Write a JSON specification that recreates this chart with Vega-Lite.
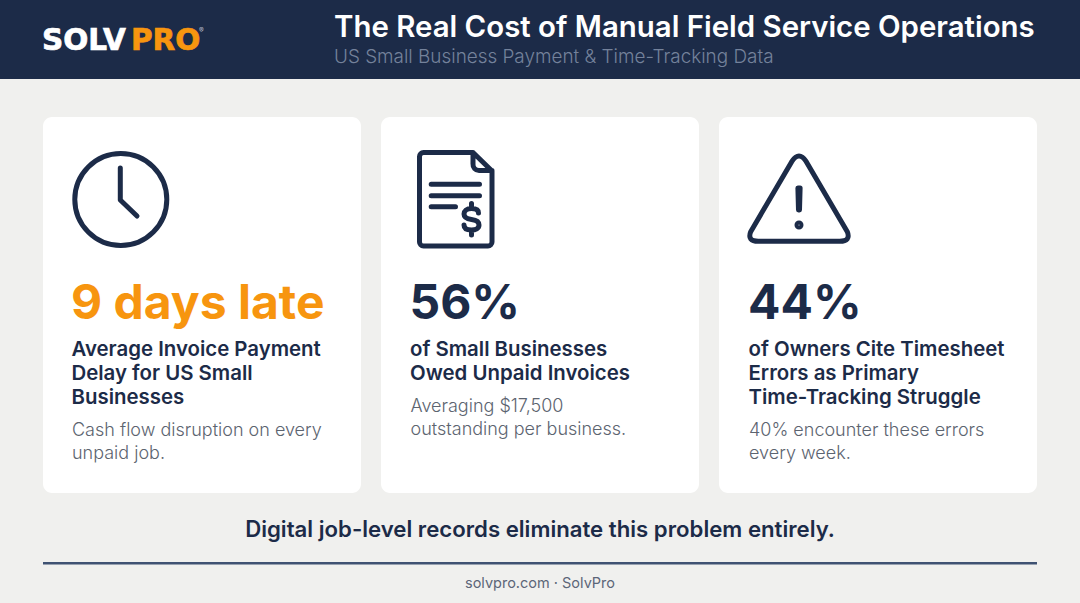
{
  "$schema": "https://vega.github.io/schema/vega-lite/v6.json",
  "width": 1080,
  "height": 603,
  "autosize": {"type": "fit", "contains": "padding"},
  "padding": 0,
  "background": "#f0f0ee",
  "config": {"view": {"stroke": null}, "font": "Inter"},
  "resolve": {"scale": {"x": "independent", "y": "independent", "color": "independent", "stroke": "independent"}},
  "layer": [
    {
      "data": {"values": [{"panel": "header"}]},
      "mark": {"type": "rect", "fill": "#1c2b48"},
      "encoding": {
        "x": {"field": "panel", "type": "nominal", "axis": null, "scale": {"type": "band", "domain": ["header"], "range": [0, 1080], "padding": 0}},
        "y": {"field": "panel", "type": "nominal", "axis": null, "scale": {"type": "band", "domain": ["header"], "range": [0, 79], "padding": 0}}
      }
    },
    {
      "data": {"values": [{"card": "Payment delay"}, {"card": "Unpaid invoices"}, {"card": "Timesheet errors"}]},
      "mark": {"type": "rect", "fill": "#ffffff", "cornerRadius": 9},
      "encoding": {
        "x": {"field": "card", "type": "nominal", "axis": null, "scale": {"type": "band", "domain": ["Payment delay", "Unpaid invoices", "Timesheet errors"], "range": [43, 1037], "paddingInner": 0.0592, "paddingOuter": 0}},
        "y": {"datum": "card", "type": "nominal", "axis": null, "scale": {"type": "band", "domain": ["card"], "range": [117, 493], "padding": 0}}
      }
    },
    {
      "data": {"values": [{"panel": "divider"}]},
      "mark": {"type": "rect", "fill": "#3f5272"},
      "encoding": {
        "x": {"field": "panel", "type": "nominal", "axis": null, "scale": {"type": "band", "domain": ["divider"], "range": [43, 1037], "padding": 0}},
        "y": {"field": "panel", "type": "nominal", "axis": null, "scale": {"type": "band", "domain": ["divider"], "range": [562, 564.5], "padding": 0}}
      }
    },
    {
      "data": {"values": [{"word": "SOLV"}, {"word": "PRO"}]},
      "mark": {"type": "text", "align": "left", "baseline": "alphabetic", "fontSize": 29.5, "fontWeight": 700, "font": "DejaVu Sans", "strokeWidth": 0.7},
      "encoding": {
        "x": {"field": "word", "type": "nominal", "axis": null, "scale": {"type": "point", "domain": ["SOLV", "PRO"], "range": [42, 131], "padding": 0}},
        "y": {"datum": "logo", "type": "nominal", "axis": null, "scale": {"type": "point", "domain": ["logo"], "range": [50, 50], "padding": 0}},
        "text": {"field": "word"},
        "color": {"field": "word", "type": "nominal", "legend": null, "scale": {"domain": ["SOLV", "PRO"], "range": ["#ffffff", "#f7950f"]}},
        "stroke": {"field": "word", "type": "nominal", "legend": null, "scale": {"domain": ["SOLV", "PRO"], "range": ["#ffffff", "#f7950f"]}}
      }
    },
    {
      "data": {"values": [{"word": "®"}]},
      "mark": {"type": "text", "align": "left", "baseline": "alphabetic", "fontSize": 7, "color": "#b9bfca"},
      "encoding": {
        "x": {"field": "word", "type": "nominal", "axis": null, "scale": {"type": "point", "domain": ["®"], "range": [199, 199], "padding": 0}},
        "y": {"field": "word", "type": "nominal", "axis": null, "scale": {"type": "point", "domain": ["®"], "range": [33, 33], "padding": 0}},
        "text": {"field": "word"}
      }
    },
    {
      "data": {"values": [{"slot": "title", "label": "The Real Cost of Manual Field Service Operations"}]},
      "mark": {"type": "text", "align": "left", "baseline": "alphabetic", "fontSize": 29.4, "fontWeight": 600, "color": "#ffffff"},
      "encoding": {
        "x": {"field": "slot", "type": "nominal", "axis": null, "scale": {"type": "point", "domain": ["title"], "range": [334, 334], "padding": 0}},
        "y": {"field": "slot", "type": "nominal", "axis": null, "scale": {"type": "point", "domain": ["title"], "range": [37, 37], "padding": 0}},
        "text": {"field": "label"}
      }
    },
    {
      "data": {"values": [{"slot": "subtitle", "label": "US Small Business Payment & Time-Tracking Data"}]},
      "mark": {"type": "text", "align": "left", "baseline": "alphabetic", "fontSize": 18.9, "fontWeight": 300, "color": "#74829b"},
      "encoding": {
        "x": {"field": "slot", "type": "nominal", "axis": null, "scale": {"type": "point", "domain": ["subtitle"], "range": [334, 334], "padding": 0}},
        "y": {"field": "slot", "type": "nominal", "axis": null, "scale": {"type": "point", "domain": ["subtitle"], "range": [63, 63], "padding": 0}},
        "text": {"field": "label"}
      }
    },
    {
      "data": {"values": [{"card": "Payment delay"}, {"card": "Unpaid invoices"}, {"card": "Timesheet errors"}]},
      "mark": {"type": "point", "filled": false, "opacity": 1, "size": 4, "stroke": "#1c2b48", "strokeWidth": 5, "strokeCap": "round", "strokeJoin": "round"},
      "encoding": {
        "x": {"field": "card", "type": "nominal", "axis": null, "scale": {"type": "point", "domain": ["Payment delay", "Unpaid invoices", "Timesheet errors"], "range": [72, 749], "padding": 0}},
        "y": {"datum": "icon", "type": "nominal", "axis": null, "scale": {"type": "point", "domain": ["icon"], "range": [150, 150], "padding": 0}},
        "shape": {
          "field": "card",
          "type": "nominal",
          "legend": null,
          "scale": {
            "domain": ["Payment delay", "Unpaid invoices", "Timesheet errors"],
            "range": [
              "M2.8,49.5 A46,46 0 1 1 94.8,49.5 A46,46 0 1 1 2.8,49.5 Z M48.3,18 V50 L65,66",
              "M13,2.5 H62.5 L81.5,21 V92 A4,4 0 0 1 77.5,96 H13 A4,4 0 0 1 9,92 V6.5 A4,4 0 0 1 13,2.5 Z M62.5,2.5 V14 A6,6 0 0 0 68.5,20.5 H81.5 M20.7,34.3 H69 M20.7,45.7 H69 M20.7,56.7 H45 M68,63 C68,59 64,58.5 61,58.5 C56,58.5 53.5,61 53.5,64 C53.5,68 57,69 61,69.5 C65,70 68.5,71.5 68.5,75 C68.5,78.5 65,80 61,80 C57,80 53.5,79 53.5,75 M61,53.5 V58 M61,80 V85",
              "M9.3,91.3 H90.7 Q102,91.3 98.3,81.7 L57.3,11.7 Q50,0.5 42.7,11.7 L1.7,81.7 Q-2,91.3 9.3,91.3 Z M48.9,38 H51.1 L50.5,60 H49.5 Z M48,75 A2,2 0 1 1 52,75 A2,2 0 1 1 48,75 Z"
            ]
          }
        }
      }
    },
    {
      "data": {"values": [
        {"card": "Payment delay", "figure": "9 days late"},
        {"card": "Unpaid invoices", "figure": "56%"},
        {"card": "Timesheet errors", "figure": "44%"}
      ]},
      "mark": {"type": "text", "align": "left", "baseline": "alphabetic", "fontSize": 48, "fontWeight": 700},
      "encoding": {
        "x": {"field": "card", "type": "nominal", "axis": null, "scale": {"type": "point", "domain": ["Payment delay", "Unpaid invoices", "Timesheet errors"], "range": [71, 748], "padding": 0}},
        "y": {"datum": "figure", "type": "nominal", "axis": null, "scale": {"type": "point", "domain": ["figure"], "range": [319, 319], "padding": 0}},
        "text": {"field": "figure"},
        "color": {"field": "card", "type": "nominal", "legend": null, "scale": {"domain": ["Payment delay", "Unpaid invoices", "Timesheet errors"], "range": ["#f7950f", "#1c2b48", "#1c2b48"]}}
      }
    },
    {
      "data": {"values": [
        {"card": "Payment delay", "heading": "Average Invoice Payment\nDelay for US Small\nBusinesses"},
        {"card": "Unpaid invoices", "heading": "of Small Businesses\nOwed Unpaid Invoices"},
        {"card": "Timesheet errors", "heading": "of Owners Cite Timesheet\nErrors as Primary\nTime-Tracking Struggle"}
      ]},
      "mark": {"type": "text", "align": "left", "baseline": "alphabetic", "fontSize": 20.4, "fontWeight": 600, "lineBreak": "\n", "lineHeight": 24, "color": "#1c2b48"},
      "encoding": {
        "x": {"field": "card", "type": "nominal", "axis": null, "scale": {"type": "point", "domain": ["Payment delay", "Unpaid invoices", "Timesheet errors"], "range": [71.5, 748.5], "padding": 0}},
        "y": {"datum": "heading", "type": "nominal", "axis": null, "scale": {"type": "point", "domain": ["heading"], "range": [356, 356], "padding": 0}},
        "text": {"field": "heading"}
      }
    },
    {
      "data": {"values": [
        {"card": "Payment delay", "after": "three lines", "note": "Cash flow disruption on every\nunpaid job."},
        {"card": "Unpaid invoices", "after": "two lines", "note": "Averaging $17,500\noutstanding per business."},
        {"card": "Timesheet errors", "after": "three lines", "note": "40% encounter these errors\nevery week."}
      ]},
      "mark": {"type": "text", "align": "left", "baseline": "alphabetic", "fontSize": 18, "fontWeight": 300, "lineBreak": "\n", "lineHeight": 23, "color": "#5c6470"},
      "encoding": {
        "x": {"field": "card", "type": "nominal", "axis": null, "scale": {"type": "point", "domain": ["Payment delay", "Unpaid invoices", "Timesheet errors"], "range": [72, 749], "padding": 0}},
        "y": {"field": "after", "type": "nominal", "axis": null, "scale": {"type": "point", "domain": ["two lines", "three lines"], "range": [412, 436], "padding": 0}},
        "text": {"field": "note"}
      }
    },
    {
      "data": {"values": [{"slot": "tagline", "label": "Digital job-level records eliminate this problem entirely."}]},
      "mark": {"type": "text", "align": "center", "baseline": "alphabetic", "fontSize": 22.2, "fontWeight": 600, "color": "#1c2b48"},
      "encoding": {
        "x": {"field": "slot", "type": "nominal", "axis": null, "scale": {"type": "point", "domain": ["tagline"], "range": [540, 540], "padding": 0}},
        "y": {"field": "slot", "type": "nominal", "axis": null, "scale": {"type": "point", "domain": ["tagline"], "range": [537, 537], "padding": 0}},
        "text": {"field": "label"}
      }
    },
    {
      "data": {"values": [{"slot": "footer", "label": "solvpro.com · SolvPro"}]},
      "mark": {"type": "text", "align": "center", "baseline": "alphabetic", "fontSize": 14.5, "fontWeight": 400, "color": "#5c6678"},
      "encoding": {
        "x": {"field": "slot", "type": "nominal", "axis": null, "scale": {"type": "point", "domain": ["footer"], "range": [540, 540], "padding": 0}},
        "y": {"field": "slot", "type": "nominal", "axis": null, "scale": {"type": "point", "domain": ["footer"], "range": [588, 588], "padding": 0}},
        "text": {"field": "label"}
      }
    }
  ]
}
